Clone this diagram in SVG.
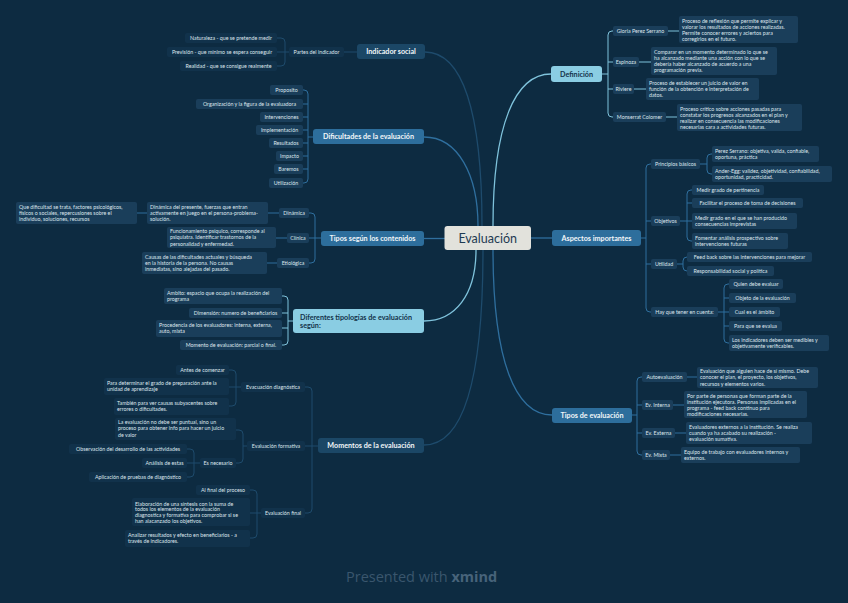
<svg xmlns="http://www.w3.org/2000/svg" width="848" height="603" viewBox="0 0 848 603">
<style>
.t{font-family:Lato,"Open Sans",sans-serif;font-size:5.3px;fill:#dde5ec}
.tm{text-anchor:middle}
.bt{font-family:Lato,"Open Sans",sans-serif;font-size:7.2px;fill:#f2f6f9;text-anchor:middle;font-weight:bold}
.btd{font-family:Lato,"Open Sans",sans-serif;font-size:7.2px;fill:#13324a;font-weight:bold}
.s{fill:#1a3e5a}
.s0{fill:#11324b}
.bd{fill:#1b4766}
.bm{fill:#2d6e9c}
.bl{fill:#8acde3}
.c{fill:none;stroke-width:1}
.cd{stroke:#1e4b6c}
.cm{stroke:#2f6f9e}
.cl{stroke:#7fc3dc}
.mc{fill:none;stroke-width:1.3}
</style>
<rect width="848" height="603" fill="#0d2b41"/>

<g id="connectors">
<path class="mc cd" d="M425 52 C462 52 482 110 482 226"/>
<path class="mc cm" d="M424 137 C458 137 478 175 478 226"/>
<path class="mc cl" d="M551 74 C515 74 493 125 493 226"/>
<path class="mc cm" d="M424 238.5 H445"/>
<path class="mc cm" d="M531 238 H552"/>
<path class="mc cl" d="M424 321 C455 321 476 295 476 250"/>
<path class="mc cd" d="M424 445 C462 445 483 385 483 250"/>
<path class="mc cm" d="M552 415 C515 415 493 360 493 250"/>

<path class="c cd" d="M344 52 H357 M277 38 H281 Q285 38 285 42 V62 Q285 66 281 66 H277 M277 52 H289"/>
<path class="c cm" d="M303 90 H304 Q308 90 308 94 V179 Q308 183 304 183 H303 M303 104 H308 M303 117 H308 M303 130 H308 M303 143 H308 M303 156 H308 M303 169 H308 M308 137 H313"/>
<path class="c cm" d="M309 213 H311 Q315 213 315 217 V259 Q315 263 311 263 H309 M309 238 H321 M268 213 H279 M137 213 H147 M276 238 H287 M267 263 H277"/>
<path class="c cl" d="M282 296 H284 Q288 296 288 300 V341 Q288 345 284 345 H282 M282 313 H288 M282 328 H288 M288 321 H293"/>
<path class="c cd" d="M305 387 H308 Q312 387 312 391 V509 Q312 513 308 513 H305 M305 446 H318 M229 370 H232 Q236 370 236 374 V402 Q236 406 232 406 H229 M229 387 H241 M236 430 H239 Q243 430 243 434 V459 Q243 463 239 463 H236 M243 446 H247 M187 449 H190 Q194 449 194 453 V473 Q194 477 190 477 H187 M187 463 H200 M250 490 H253 Q257 490 257 494 V534 Q257 538 253 538 H250 M250 513 H261"/>
<path class="c cl" d="M613 31 H612 Q608 31 608 35 V113 Q608 117 612 117 H613 M602 74 H608 M608 62 H613 M608 89 H613 M668 31 H679 M639 62 H651 M634 89 H646 M666 117 H677"/>
<path class="c cm" d="M651 164 H650 Q646 164 646 168 V308 Q646 312 650 312 H651 M641 238 H646 M646 221 H651 M646 264 H651 M712 154 H711 Q707 154 707 158 V170 Q707 174 711 174 H712 M700 164 H707 M692 190 H691 Q687 190 687 194 V237 Q687 241 691 241 H692 M680 221 H692 M687 203 H692 M687 257 Q683 257 683 261 V267 Q683 271 687 271 M677 264 H683 M729 284 H728 Q724 284 724 288 V339 Q724 343 728 343 H729 M718 312 H729 M724 298 H729 M724 326 H729"/>
<path class="c cm" d="M642 377 H641 Q637 377 637 381 V451 Q637 455 641 455 H642 M632 415 H637 M637 405 H642 M637 433 H642 M687 377 H697 M673 405 H684 M675 433 H686 M670 455 H681"/>
</g>

<g id="center">
<rect x="444.5" y="226" width="86.5" height="24" rx="3" fill="#e2e2dc"/>
<text x="487.7" y="242.5" font-family="Lato,'Open Sans',sans-serif" font-size="12.5" fill="#1e3a52" text-anchor="middle">Evaluación</text>
</g>

<g id="indicador-social">
<rect class="bd" x="357" y="44" width="68" height="15" rx="3"/>
<text class="bt" x="391" y="54.2">Indicador social</text>
<rect class="s0" x="289" y="47" width="55" height="10" rx="2"/>
<text class="t tm" x="316.5" y="53.9">Partes del indicador</text>
<rect class="s0" x="185" y="33" width="92" height="10" rx="2"/>
<text class="t tm" x="231" y="39.9">Naturaleza - que se pretende medir</text>
<rect class="s0" x="167" y="47" width="110" height="10" rx="2"/>
<text class="t tm" x="222" y="53.9">Previsión - que mínimo se espera conseguir</text>
<rect class="s0" x="180" y="61" width="97" height="10" rx="2"/>
<text class="t tm" x="228.5" y="67.9">Realidad - que se consigue realmente</text>
</g>

<g id="dificultades">
<rect class="bm" x="313" y="129" width="111" height="15" rx="3"/>
<text class="bt" x="368.5" y="139.2">Dificultades de la evaluación</text>
<rect class="s" x="270" y="85" width="33" height="10" rx="2"/><text class="t tm" x="286.5" y="91.9">Proposito</text>
<rect class="s" x="196" y="99" width="107" height="10" rx="2"/><text class="t tm" x="249.5" y="105.9">Organización y la figura de la evaluadora</text>
<rect class="s" x="260" y="112" width="43" height="10" rx="2"/><text class="t tm" x="281.5" y="118.9">Intervenciones</text>
<rect class="s" x="256" y="125" width="47" height="10" rx="2"/><text class="t tm" x="279.5" y="131.9">Implementación</text>
<rect class="s" x="269" y="138" width="34" height="10" rx="2"/><text class="t tm" x="286" y="144.9">Resultados</text>
<rect class="s" x="276" y="151" width="27" height="10" rx="2"/><text class="t tm" x="289.5" y="157.9">Impacto</text>
<rect class="s" x="274" y="164" width="29" height="10" rx="2"/><text class="t tm" x="288.5" y="170.9">Baremos</text>
<rect class="s" x="269" y="178" width="34" height="10" rx="2"/><text class="t tm" x="286" y="184.9">Utilización</text>
</g>

<g id="tipos-contenidos">
<rect class="bm" x="321" y="231" width="103" height="15" rx="3"/>
<text class="bt" x="372.5" y="241.2">Tipos según los contenidos</text>
<rect class="s" x="279" y="208" width="30" height="10" rx="2"/><text class="t tm" x="294" y="214.9">Dinámica</text>
<rect class="s" x="287" y="233" width="22" height="10" rx="2"/><text class="t tm" x="298" y="239.9">Clínica</text>
<rect class="s" x="277" y="258" width="32" height="10" rx="2"/><text class="t tm" x="293" y="264.9">Etiológica</text>
<rect class="s" x="147" y="202" width="121" height="22" rx="2"/>
<text class="t" x="150" y="208.5">Dinámica del presente, fuerzas que entran<tspan x="150" dy="6.2">activamente en juego en el persona-problema-</tspan><tspan x="150" dy="6.2">solución.</tspan></text>
<rect class="s" x="16" y="202" width="121" height="22" rx="2"/>
<text class="t" x="19" y="208.5">Que dificultad se trata, factores psicológicos,<tspan x="19" dy="6.2">físicos o sociales, repercusiones sobre el</tspan><tspan x="19" dy="6.2">individuo, soluciones, recursos</tspan></text>
<rect class="s" x="167" y="227" width="109" height="21" rx="2"/>
<text class="t" x="170" y="233.2">Funcionamiento psíquico, corresponde al<tspan x="170" dy="6.2">psiquiatra. Identificar trastornos de la</tspan><tspan x="170" dy="6.2">personalidad y enfermedad.</tspan></text>
<rect class="s" x="142" y="252" width="125" height="22" rx="2"/>
<text class="t" x="145" y="258.5">Causas de las dificultades actuales y búsqueda<tspan x="145" dy="6.2">en la historia de la persona. No causas</tspan><tspan x="145" dy="6.2">inmediatas, sino alejadas del pasado.</tspan></text>
</g>

<g id="diferentes-tipologias">
<rect class="bl" x="293" y="309" width="131" height="24" rx="3"/>
<text class="btd" x="300" y="319.5">Diferentes tipologías de evaluación<tspan x="300" dy="8.6">según:</tspan></text>
<rect class="s" x="164" y="288" width="118" height="16" rx="2"/>
<text class="t" x="167" y="294.5">Ambito: espacio que ocupa la realización del<tspan x="167" dy="6.2">programa</tspan></text>
<rect class="s" x="189" y="308" width="93" height="10" rx="2"/><text class="t tm" x="235.5" y="314.9">Dimensión: numero de beneficiarios</text>
<rect class="s" x="156" y="320" width="126" height="17" rx="2"/>
<text class="t" x="159" y="326.5">Procedencia de los evaluadores: interna, externa,<tspan x="159" dy="6.2">auto, mixta</tspan></text>
<rect class="s" x="180" y="340" width="102" height="10" rx="2"/><text class="t tm" x="231" y="346.9">Momento de evaluación: parcial o final.</text>
</g>

<g id="momentos">
<rect class="bd" x="318" y="438" width="106" height="15" rx="3"/>
<text class="bt" x="371" y="448.2">Momentos de la evaluación</text>
<rect class="s0" x="241" y="382" width="64" height="10" rx="2"/><text class="t tm" x="273" y="388.9">Evacuación diagnóstica</text>
<rect class="s0" x="247" y="441" width="58" height="10" rx="2"/><text class="t tm" x="276" y="447.9">Evaluación formativa</text>
<rect class="s0" x="261" y="508" width="44" height="10" rx="2"/><text class="t tm" x="283" y="514.9">Evaluación final</text>
<rect class="s0" x="176" y="365" width="53" height="10" rx="2"/><text class="t tm" x="202.5" y="371.9">Antes de comenzar</text>
<rect class="s0" x="104" y="378" width="125" height="17" rx="2"/>
<text class="t" x="107" y="384.5">Para determinar el grado de preparación ante la<tspan x="107" dy="6.2">unidad de aprendizaje</tspan></text>
<rect class="s0" x="114" y="398" width="115" height="17" rx="2"/>
<text class="t" x="117" y="404.5">También para ver causas subyacentes sobre<tspan x="117" dy="6.2">errores o dificultades.</tspan></text>
<rect class="s0" x="115" y="418" width="121" height="22" rx="2"/>
<text class="t" x="118" y="424.2">La evaluación no debe ser puntual, sino un<tspan x="118" dy="6.2">proceso para obtener info para hacer un juicio</tspan><tspan x="118" dy="6.2">de valor</tspan></text>
<rect class="s0" x="200" y="458" width="36" height="10" rx="2"/><text class="t tm" x="218" y="464.9">Es necesario</text>
<rect class="s0" x="69" y="444" width="118" height="10" rx="2"/><text class="t tm" x="128" y="450.9">Observación del desarrollo de las actividades</text>
<rect class="s0" x="142" y="458" width="45" height="10" rx="2"/><text class="t tm" x="164.5" y="464.9">Análisis de estas</text>
<rect class="s0" x="89" y="472" width="98" height="10" rx="2"/><text class="t tm" x="138" y="478.9">Aplicación de pruebas de diagnóstico</text>
<rect class="s0" x="196" y="485" width="54" height="10" rx="2"/><text class="t tm" x="223" y="491.9">Al final del proceso</text>
<rect class="s0" x="132" y="498" width="118" height="28" rx="2"/>
<text class="t" x="135" y="505.5">Elaboración de una síntesis con la suma de<tspan x="135" dy="5.8">todos los elementos de la evaluación</tspan><tspan x="135" dy="5.8">diagnostica y formativa para comprobar si se</tspan><tspan x="135" dy="5.8">han alacanzado los objetivos.</tspan></text>
<rect class="s0" x="125" y="530" width="125" height="17" rx="2"/>
<text class="t" x="128" y="536.5">Analizar resultados y efecto en beneficiarios - a<tspan x="128" dy="6.2">través de indicadores.</tspan></text>
</g>

<g id="definicion">
<rect class="bl" x="551" y="66" width="51" height="16" rx="3"/>
<text class="btd" x="576.5" y="76.5" text-anchor="middle">Definición</text>
<rect class="s" x="613" y="26" width="55" height="10" rx="2"/><text class="t tm" x="640.5" y="32.9">Gloria Perez Serrano</text>
<rect class="s" x="613" y="57" width="26" height="10" rx="2"/><text class="t tm" x="626" y="63.9">Espinoza</text>
<rect class="s" x="613" y="84" width="21" height="10" rx="2"/><text class="t tm" x="623.5" y="90.9">Riviere</text>
<rect class="s" x="613" y="112" width="53" height="10" rx="2"/><text class="t tm" x="639.5" y="118.9">Monserrat Colomer</text>
<rect class="s" x="679" y="16" width="119" height="27" rx="2"/>
<text class="t" x="682" y="22.5">Proceso de reflexión que permite explicar y<tspan x="682" dy="6.2">valorar los resultados de acciones realizadas.</tspan><tspan x="682" dy="6.2">Permite conocer errores y aciertos para</tspan><tspan x="682" dy="6.2">corregirlos en el futuro.</tspan></text>
<rect class="s" x="651" y="47" width="126" height="28" rx="2"/>
<text class="t" x="654" y="53.5">Comparar en un momento determinado lo que se<tspan x="654" dy="6.2">ha alcanzado mediante una acción con lo que se</tspan><tspan x="654" dy="6.2">debería haber alcanzado de acuerdo a una</tspan><tspan x="654" dy="6.2">programación previa.</tspan></text>
<rect class="s" x="646" y="78" width="113" height="22" rx="2"/>
<text class="t" x="649" y="84.5">Proceso de establecer un juicio de valor en<tspan x="649" dy="6.2">función de la obtención e interpretación de</tspan><tspan x="649" dy="6.2">datos.</tspan></text>
<rect class="s" x="677" y="104" width="125" height="27" rx="2"/>
<text class="t" x="680" y="110.5">Proceso crítico sobre acciones pasadas para<tspan x="680" dy="6.2">constatar los progresos alcanzados en el plan y</tspan><tspan x="680" dy="6.2">realizar en consecuencia las modificaciones</tspan><tspan x="680" dy="6.2">necesarias cara a actividades futuras.</tspan></text>
</g>

<g id="aspectos-importantes">
<rect class="bm" x="552" y="230" width="89" height="16" rx="3"/>
<text class="bt" x="596.5" y="240.7">Aspectos importantes</text>
<rect class="s" x="651" y="159" width="49" height="10" rx="2"/><text class="t tm" x="675.5" y="165.9">Principios básicos</text>
<rect class="s" x="651" y="216" width="29" height="10" rx="2"/><text class="t tm" x="665.5" y="222.9">Objetivos</text>
<rect class="s" x="651" y="259" width="26" height="10" rx="2"/><text class="t tm" x="664" y="265.9">Utilidad</text>
<rect class="s" x="651" y="307" width="67" height="10" rx="2"/><text class="t tm" x="684.5" y="313.9">Hay que tener en cuenta:</text>
<rect class="s" x="712" y="146" width="107" height="16" rx="2"/>
<text class="t" x="715" y="152.5">Perez Serrano: objetiva, valida, confiable,<tspan x="715" dy="6.2">oportuna, práctica</tspan></text>
<rect class="s" x="712" y="166" width="120" height="16" rx="2"/>
<text class="t" x="715" y="172.5">Ander-Egg: validez, objetividad, confiabilidad,<tspan x="715" dy="6.2">oportunidad, practicidad.</tspan></text>
<rect class="s" x="692" y="185" width="72" height="10" rx="2"/><text class="t tm" x="728" y="191.9">Medir grado de pertinencia</text>
<rect class="s" x="692" y="198" width="111" height="10" rx="2"/><text class="t tm" x="747.5" y="204.9">Facilitar el proceso de toma de decisiones</text>
<rect class="s" x="692" y="213" width="105" height="16" rx="2"/>
<text class="t" x="695" y="219.5">Medir grado en el que se han producido<tspan x="695" dy="6.2">consecuencias imprevistas</tspan></text>
<rect class="s" x="692" y="233" width="96" height="16" rx="2"/>
<text class="t" x="695" y="239.5">Fomentar análisis prospectivo sobre<tspan x="695" dy="6.2">intervenciones futuras</tspan></text>
<rect class="s" x="687" y="252" width="125" height="10" rx="2"/><text class="t tm" x="749.5" y="258.9">Feed back sobre las intervenciones para mejorar</text>
<rect class="s" x="687" y="266" width="87" height="10" rx="2"/><text class="t tm" x="730.5" y="272.9">Responsabilidad social y política</text>
<rect class="s" x="729" y="279" width="54" height="10" rx="2"/><text class="t tm" x="756" y="285.9">Quien debe evaluar</text>
<rect class="s" x="729" y="293" width="67" height="10" rx="2"/><text class="t tm" x="762.5" y="299.9">Objeto de la evaluación</text>
<rect class="s" x="729" y="307" width="51" height="10" rx="2"/><text class="t tm" x="754.5" y="313.9">Cual es el ámbito</text>
<rect class="s" x="729" y="321" width="53" height="10" rx="2"/><text class="t tm" x="755.5" y="327.9">Para que se evalua</text>
<rect class="s" x="729" y="335" width="100" height="16" rx="2"/>
<text class="t" x="732" y="341.5">Los indicadores deben ser medibles y<tspan x="732" dy="6.2">objetivamente verificables.</tspan></text>
</g>

<g id="tipos-evaluacion">
<rect class="bm" x="552" y="408" width="80" height="15" rx="3"/>
<text class="bt" x="592" y="418.2">Tipos de evaluación</text>
<rect class="s" x="642" y="372" width="45" height="10" rx="2"/><text class="t tm" x="664.5" y="378.9">Autoevaluación</text>
<rect class="s" x="642" y="400" width="31" height="10" rx="2"/><text class="t tm" x="657.5" y="406.9">Ev. Interna</text>
<rect class="s" x="642" y="428" width="33" height="10" rx="2"/><text class="t tm" x="658.5" y="434.9">Ev. Externa</text>
<rect class="s" x="642" y="450" width="28" height="10" rx="2"/><text class="t tm" x="656" y="456.9">Ev. Mixta</text>
<rect class="s" x="697" y="367" width="121" height="21" rx="2"/>
<text class="t" x="700" y="373.2">Evaluación que alguien hace de sí mismo. Debe<tspan x="700" dy="6.2">conocer el plan, el proyecto, los objetivos,</tspan><tspan x="700" dy="6.2">recursos y elementos varios.</tspan></text>
<rect class="s" x="684" y="391" width="123" height="27" rx="2"/>
<text class="t" x="687" y="397.5">Por parte de personas que forman parte de la<tspan x="687" dy="6.2">institución ejecutora. Personas implicadas en el</tspan><tspan x="687" dy="6.2">programa - feed back continuo para</tspan><tspan x="687" dy="6.2">modificaciones necesarias.</tspan></text>
<rect class="s" x="686" y="422" width="126" height="22" rx="2"/>
<text class="t" x="689" y="428.5">Evaluadores externos a la institución. Se realiza<tspan x="689" dy="6.2">cuando ya ha acabado su realización -</tspan><tspan x="689" dy="6.2">evaluación sumativa.</tspan></text>
<rect class="s" x="681" y="447" width="119" height="16" rx="2"/>
<text class="t" x="684" y="453.5">Equipo de trabajo con evaluadores internos y<tspan x="684" dy="6.2">externos.</tspan></text>
</g>

<g id="footer">
<text x="346" y="582" font-family="'Open Sans',Lato,sans-serif" font-size="14.5" fill="#3a566d">Presented with <tspan font-weight="bold" fill="#47637a">xmind</tspan></text>
</g>
</svg>
